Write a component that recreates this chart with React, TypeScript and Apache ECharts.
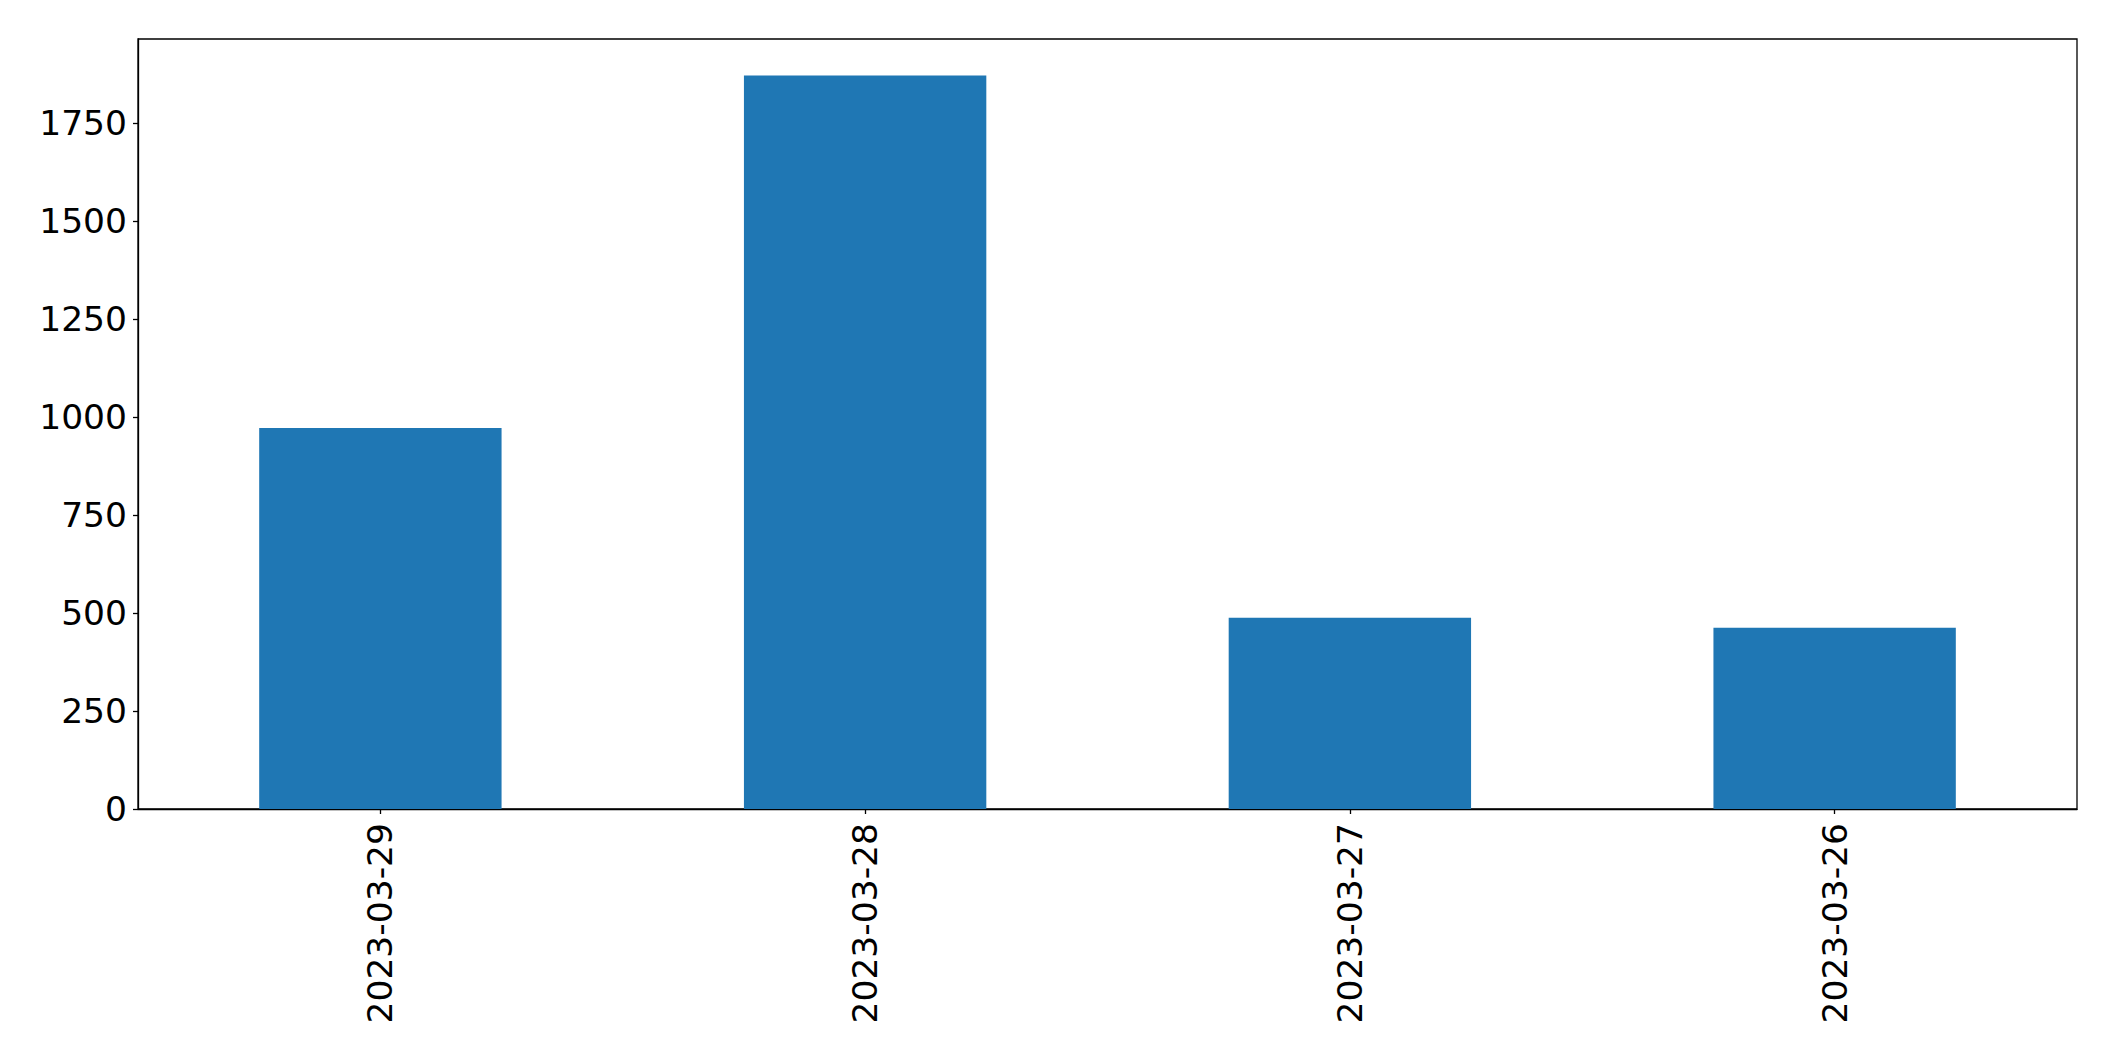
import React, { useEffect, useRef } from "react";
import * as echarts from "echarts";

const categories = ["2023-03-29", "2023-03-28", "2023-03-27", "2023-03-26"];
const values = [972, 1871, 488, 462];
const yTicks = [0, 250, 500, 750, 1000, 1250, 1500, 1750];
const yMax = 1964;

export default function App() {
  const ref = useRef<HTMLDivElement>(null);
  useEffect(() => {
    document.body.style.margin = "0";
    const chart = echarts.init(ref.current!, null, { renderer: "svg" });
    const font = { fontFamily: "DejaVu Sans", fontSize: 34.5, color: "#000" };
    chart.setOption({
      animation: false,
      backgroundColor: "#fff",
      grid: {
        left: 138,
        top: 39,
        right: 38,
        bottom: 252,
        show: true,
        borderColor: "#000",
        borderWidth: 1.3,
        containLabel: false,
      },
      xAxis: {
        type: "category",
        data: categories,
        axisLine: { show: true, lineStyle: { color: "#000", width: 1.3 } },
        axisTick: { show: true, alignWithLabel: true, length: 5, lineStyle: { color: "#000", width: 1.3 } },
        axisLabel: { ...font, rotate: 90, margin: 14 },
        splitLine: { show: false },
      },
      yAxis: {
        type: "value",
        min: 0,
        max: yMax,
        axisLine: { show: true, lineStyle: { color: "#000", width: 1.3 } },
        axisTick: { show: true, length: 5, customValues: yTicks, lineStyle: { color: "#000", width: 1.3 } },
        axisLabel: { ...font, margin: 11, customValues: yTicks, formatter: (v: number) => String(v) },
        splitLine: { show: false },
      },
      series: [
        {
          type: "bar",
          data: values,
          barCategoryGap: "50%",
          itemStyle: { color: "#1f77b4" },
        },
      ],
    });
    return () => chart.dispose();
  }, []);
  return (
    <div
      ref={ref}
      style={{ position: "fixed", left: 0, top: 0, width: 2115, height: 1061 }}
    />
  );
}
